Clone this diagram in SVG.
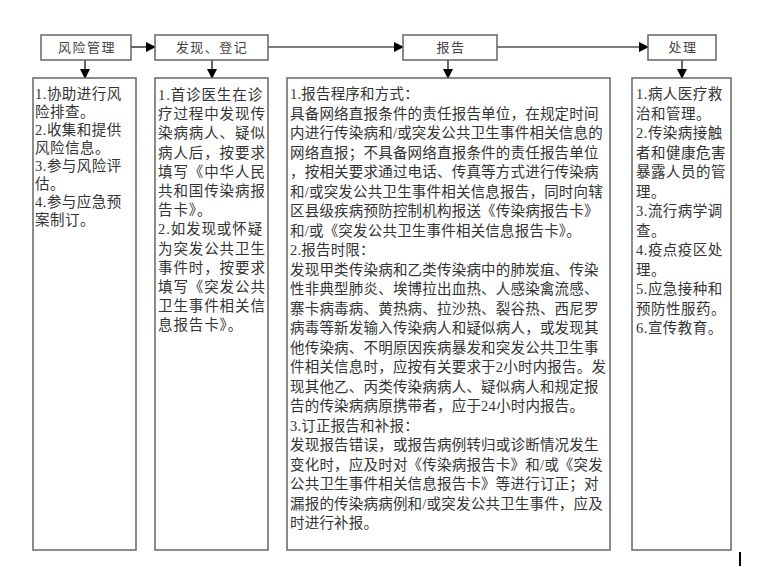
<svg xmlns="http://www.w3.org/2000/svg" width="761" height="567" viewBox="0 0 761 567">
<defs>
<marker id="ah" markerWidth="10" markerHeight="10" refX="9" refY="5" orient="auto" markerUnits="userSpaceOnUse">
<path d="M0,0 L10,5 L0,10 Z" fill="#000"/>
</marker>
<style>
.box{fill:#fff;stroke:#666;stroke-width:1.5}
.hd{font-family:"Liberation Serif","Noto Sans CJK SC",serif;font-size:13px;fill:#444;letter-spacing:1.5px;text-anchor:middle}
.tx{font-family:"Liberation Serif","Noto Sans CJK SC",serif;font-size:14.5px;fill:#333}
.cn{stroke:#000;stroke-width:1.2;fill:none;marker-end:url(#ah)}
</style>
</defs>
<rect width="761" height="567" fill="#fff"/>
<g id="connectors">
<line class="cn" x1="131" y1="47" x2="155" y2="47"/>
<line class="cn" x1="268" y1="47" x2="403" y2="47"/>
<line class="cn" x1="497" y1="47" x2="648" y2="47"/>
<line class="cn" x1="85" y1="60" x2="85" y2="78"/>
<line class="cn" x1="212" y1="60" x2="212" y2="78"/>
<line class="cn" x1="448" y1="60" x2="448" y2="78"/>
<line class="cn" x1="682" y1="60" x2="682" y2="78"/>
</g>
<g id="h1"><rect class="box" x="41" y="35" width="90" height="25"/><text class="hd" x="87" y="52">风险管理</text></g>
<g id="h2"><rect class="box" x="155" y="35" width="113" height="25"/><text class="hd" x="212" y="52">发现、登记</text></g>
<g id="h3"><rect class="box" x="403" y="35" width="94" height="25"/><text class="hd" x="451" y="52">报告</text></g>
<g id="h4"><rect class="box" x="648" y="35" width="68" height="25"/><text class="hd" x="683" y="52">处理</text></g>
<g id="c1"><rect class="box" x="33" y="78" width="103" height="472"/>
<text class="tx" style="letter-spacing:0.5px">
<tspan x="35" y="99">1.协助进行风</tspan>
<tspan x="35" y="117">险排查。</tspan>
<tspan x="35" y="135">2.收集和提供</tspan>
<tspan x="35" y="153">风险信息。</tspan>
<tspan x="35" y="171">3.参与风险评</tspan>
<tspan x="35" y="189">估。</tspan>
<tspan x="35" y="207">4.参与应急预</tspan>
<tspan x="35" y="225">案制订。</tspan>
</text></g>
<g id="c2"><rect class="box" x="155" y="78" width="113" height="472"/>
<text class="tx" style="letter-spacing:0.9px">
<tspan x="158" y="100">1.首诊医生在诊</tspan>
<tspan x="158" y="119.2">疗过程中发现传</tspan>
<tspan x="158" y="138.4">染病病人、疑似</tspan>
<tspan x="158" y="157.6">病人后，按要求</tspan>
<tspan x="158" y="176.8">填写《中华人民</tspan>
<tspan x="158" y="196">共和国传染病报</tspan>
<tspan x="158" y="215.2">告卡》。</tspan>
<tspan x="158" y="234.4">2.如发现或怀疑</tspan>
<tspan x="158" y="253.6">为突发公共卫生</tspan>
<tspan x="158" y="272.8">事件时，按要求</tspan>
<tspan x="158" y="292">填写《突发公共</tspan>
<tspan x="158" y="311.2">卫生事件相关信</tspan>
<tspan x="158" y="330.4">息报告卡》。</tspan>
</text></g>
<g id="c3"><rect class="box" x="287" y="78" width="323" height="472"/>
<text class="tx" style="letter-spacing:0.2px">
<tspan x="290" y="99">1.报告程序和方式：</tspan>
<tspan x="290" y="118.5">具备网络直报条件的责任报告单位，在规定时间</tspan>
<tspan x="290" y="138">内进行传染病和/或突发公共卫生事件相关信息的</tspan>
<tspan x="290" y="157.5">网络直报；不具备网络直报条件的责任报告单位</tspan>
<tspan x="290" y="177">，按相关要求通过电话、传真等方式进行传染病</tspan>
<tspan x="290" y="196.5">和/或突发公共卫生事件相关信息报告，同时向辖</tspan>
<tspan x="290" y="216">区县级疾病预防控制机构报送《传染病报告卡》</tspan>
<tspan x="290" y="235.5">和/或《突发公共卫生事件相关信息报告卡》。</tspan>
<tspan x="290" y="255">2.报告时限：</tspan>
<tspan x="290" y="274.5">发现甲类传染病和乙类传染病中的肺炭疽、传染</tspan>
<tspan x="290" y="294">性非典型肺炎、埃博拉出血热、人感染禽流感、</tspan>
<tspan x="290" y="313.5">寨卡病毒病、黄热病、拉沙热、裂谷热、西尼罗</tspan>
<tspan x="290" y="333">病毒等新发输入传染病人和疑似病人，或发现其</tspan>
<tspan x="290" y="352.5">他传染病、不明原因疾病暴发和突发公共卫生事</tspan>
<tspan x="290" y="372">件相关信息时，应按有关要求于2小时内报告。发</tspan>
<tspan x="290" y="391.5">现其他乙、丙类传染病病人、疑似病人和规定报</tspan>
<tspan x="290" y="411">告的传染病病原携带者，应于24小时内报告。</tspan>
<tspan x="290" y="430.5">3.订正报告和补报：</tspan>
<tspan x="290" y="450">发现报告错误，或报告病例转归或诊断情况发生</tspan>
<tspan x="290" y="469.5">变化时，应及时对《传染病报告卡》和/或《突发</tspan>
<tspan x="290" y="489">公共卫生事件相关信息报告卡》等进行订正；对</tspan>
<tspan x="290" y="508.5">漏报的传染病病例和/或突发公共卫生事件，应及</tspan>
<tspan x="290" y="528">时进行补报。</tspan>
</text></g>
<g id="c4"><rect class="box" x="632" y="78" width="99" height="472"/>
<text class="tx" style="letter-spacing:0.5px">
<tspan x="636" y="99">1.病人医疗救</tspan>
<tspan x="636" y="118.5">治和管理。</tspan>
<tspan x="636" y="138">2.传染病接触</tspan>
<tspan x="636" y="157.5">者和健康危害</tspan>
<tspan x="636" y="177">暴露人员的管</tspan>
<tspan x="636" y="196.5">理。</tspan>
<tspan x="636" y="216">3.流行病学调</tspan>
<tspan x="636" y="235.5">查。</tspan>
<tspan x="636" y="255">4.疫点疫区处</tspan>
<tspan x="636" y="274.5">理。</tspan>
<tspan x="636" y="294">5.应急接种和</tspan>
<tspan x="636" y="313.5">预防性服药。</tspan>
<tspan x="636" y="333">6.宣传教育。</tspan>
</text></g>
<line x1="740" y1="552" x2="740" y2="566" stroke="#000" stroke-width="2"/>
</svg>
